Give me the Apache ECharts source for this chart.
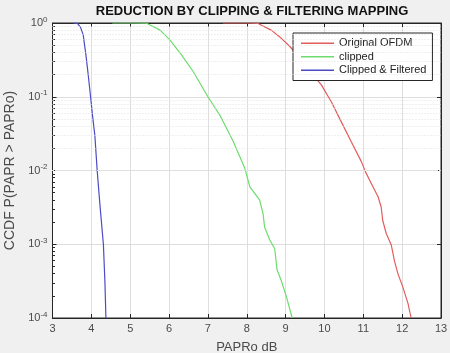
<!DOCTYPE html>
<html>
<head>
<meta charset="utf-8">
<script src="https://cdn.jsdelivr.net/npm/echarts@6/dist/echarts.min.js"></script>
<style>
  html, body { margin: 0; padding: 0; background: #f0f0f0; }
  #chart { width: 450px; height: 353px; }
</style>
</head>
<body>
<div id="chart"></div>
<script>
// CCDF curves: [PAPRo dB, probability]
const originalOfdm = [
  [7.39, 1], [8.0, 1], [8.29, 0.985], [8.63, 0.8], [8.89, 0.62], [9.11, 0.48],
  [9.45, 0.3], [9.75, 0.186], [9.92, 0.145], [10.18, 0.085], [10.43, 0.046],
  [10.69, 0.0245], [10.95, 0.0132], [11.06, 0.0095], [11.21, 0.0066],
  [11.38, 0.0044], [11.46, 0.0032], [11.5, 0.0021], [11.59, 0.0014],
  [11.72, 0.00098], [11.8, 0.0006], [11.89, 0.0004], [12.02, 0.00026],
  [12.15, 0.000158], [12.23, 0.0001]
];
const clipped = [
  [4.54, 1], [5.0, 1], [5.42, 0.995], [5.77, 0.8], [6.02, 0.59], [6.32, 0.37],
  [6.62, 0.22], [7.0, 0.1], [7.31, 0.056], [7.65, 0.025], [7.95, 0.0107],
  [8.08, 0.006], [8.33, 0.004], [8.42, 0.0026], [8.46, 0.0017], [8.59, 0.00115],
  [8.72, 0.00087], [8.78, 0.00045], [8.89, 0.00032], [9.02, 0.000195],
  [9.17, 0.0001]
];
const clippedFiltered = [
  [3.53, 1], [3.64, 0.99], [3.72, 0.88], [3.79, 0.69], [3.86, 0.37],
  [3.92, 0.197], [3.98, 0.1], [4.03, 0.056], [4.09, 0.03], [4.15, 0.01],
  [4.23, 0.003], [4.31, 0.001], [4.35, 0.0003], [4.375, 0.0001]
];
const seriesNames = ["Original OFDM", "clipped", "Clipped & Filtered"];
const xTicks = [3, 4, 5, 6, 7, 8, 9, 10, 11, 12, 13];
const yDecades = [0, -1, -2, -3, -4];
const minorMultiples = [2, 3, 4, 5, 6, 7, 8, 9];

// dotted minor grid at 2..9 of each decade
const minorLines = [];
yDecades.slice(1).forEach((d) => {
  minorMultiples.forEach((m) => minorLines.push({ yAxis: m * Math.pow(10, d) }));
});

const axisColor = "#262626";
const labelColor = "#4a4a4a";
const font = "Liberation Sans, Arial, sans-serif";

const yLabel = (v) => {
  const e = Math.round(Math.log10(v));
  return yDecades.includes(e) ? "{b|10}{s|" + e + "}" : "";
};

const options = {
  backgroundColor: "#f0f0f0",
  animation: false,
  title: {
    text: "REDUCTION BY CLIPPING & FILTERING MAPPING",
    left: 247,
    top: 0,
    textAlign: "center",
    textStyle: { fontFamily: font, fontSize: 13, fontWeight: "bold", color: "#111" },
  },
  grid: {
    left: 52.5,
    right: 9,
    top: 23,
    bottom: 35,
    outerBoundsMode: "none",
    show: true,
    backgroundColor: "#fff",
    borderColor: axisColor,
    borderWidth: 1,
  },
  legend: {
    data: seriesNames,
    orient: "vertical",
    left: 293,
    top: 33,
    padding: [4, 6, 4, 8],
    icon: "rect",
    itemWidth: 33,
    itemHeight: 1.3,
    itemGap: 1,
    backgroundColor: "#fff",
    borderColor: axisColor,
    borderWidth: 1,
    borderRadius: 0,
    textStyle: { fontFamily: font, fontSize: 11, color: "#222", lineHeight: 12.5 },
  },
  xAxis: [
    {
      type: "value",
      min: 3,
      max: 13,
      interval: 1,
      name: "PAPRo dB",
      nameLocation: "middle",
      nameGap: 23,
      nameTextStyle: { fontFamily: font, fontSize: 13, color: labelColor },
      axisLine: { show: true, lineStyle: { color: axisColor } },
      axisTick: { inside: true, length: 4, lineStyle: { color: axisColor } },
      axisLabel: { fontFamily: font, fontSize: 11, color: labelColor, margin: 5,
        formatter: (v) => (xTicks.includes(v) ? String(v) : "") },
      splitLine: { show: true, lineStyle: { color: "#dedede", width: 1 } },
    },
    {
      type: "value",
      position: "top",
      min: 3,
      max: 13,
      interval: 1,
      axisLine: { show: true, lineStyle: { color: axisColor } },
      axisTick: { inside: true, length: 4, lineStyle: { color: axisColor } },
      axisLabel: { show: false },
      splitLine: { show: false },
    },
  ],
  yAxis: [
    {
      type: "log",
      logBase: 10,
      min: 1e-4,
      max: 1,
      name: "CCDF P(PAPR > PAPRo)",
      nameLocation: "middle",
      nameGap: 33,
      nameTextStyle: { fontFamily: font, fontSize: 14, color: labelColor },
      axisLine: { show: true, lineStyle: { color: axisColor } },
      axisTick: { inside: true, length: 4, lineStyle: { color: axisColor } },
      minorTick: { show: true, splitNumber: 9, length: 2.5, lineStyle: { color: axisColor } },
      axisLabel: {
        margin: 5,
        formatter: yLabel,
        rich: {
          b: { fontFamily: font, fontSize: 11, color: labelColor },
          s: { fontFamily: font, fontSize: 8, color: labelColor, padding: [0, 0, 7, 0] },
        },
      },
      splitLine: { show: true, lineStyle: { color: "#dedede", width: 1 } },
    },
    {
      type: "log",
      logBase: 10,
      min: 1e-4,
      max: 1,
      position: "right",
      axisLine: { show: true, lineStyle: { color: axisColor } },
      axisTick: { inside: true, length: 4, lineStyle: { color: axisColor } },
      axisLabel: { show: false },
      splitLine: { show: false },
    },
  ],
  series: [
    {
      name: "minor grid",
      type: "line",
      data: [],
      z: 1,
      silent: true,
      markLine: {
        silent: true,
        symbol: "none",
        label: { show: false },
        lineStyle: { color: "#e0e0e0", type: [1, 2], width: 1 },
        data: minorLines,
      },
    },
    {
      name: seriesNames[0],
      type: "line",
      data: originalOfdm,
      symbol: "none",
      lineStyle: { color: "#e35d5d", width: 1.2 },
      itemStyle: { color: "#e35d5d" },
      z: 3,
    },
    {
      name: seriesNames[1],
      type: "line",
      data: clipped,
      symbol: "none",
      lineStyle: { color: "#6ddc6d", width: 1.2 },
      itemStyle: { color: "#6ddc6d" },
      z: 3,
    },
    {
      name: seriesNames[2],
      type: "line",
      data: clippedFiltered,
      symbol: "none",
      lineStyle: { color: "#4b4bc6", width: 1.2 },
      itemStyle: { color: "#4b4bc6" },
      z: 3,
    },
  ],
};

const chart = echarts.init(document.getElementById("chart"));
chart.setOption(options);
</script>
</body>
</html>
